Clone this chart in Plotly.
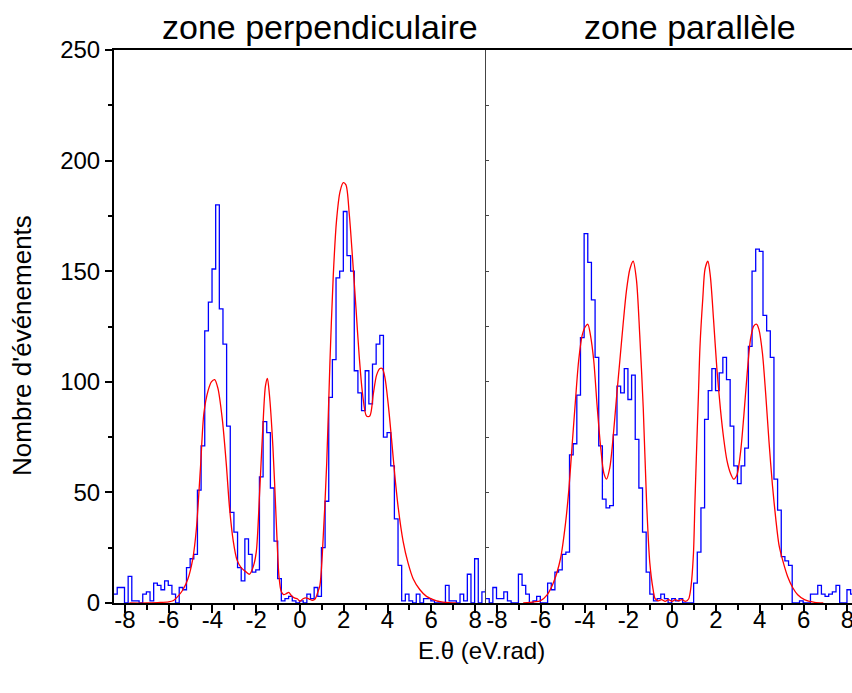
"""Energy-angle histograms with fitted curves, two zones side by side."""

import numpy as np
import plotly.graph_objects as go

# histogram binning (bins of 1/6 eV.rad)
FIRST_EDGE = -8.52
BIN_WIDTH = 1 / 6

perp_counts = [
    4, 7, 7, 0, 12, 1, 1, 0, 4, 5, 1, 9, 8, 6, 10, 8, 4, 0, 7, 6,
    16, 20, 22, 51, 71, 123, 136, 151, 180, 133, 117, 80, 41, 32, 16, 10, 29, 22, 14, 15,
    57, 82, 77, 52, 28, 11, 1, 2, 3, 1, 0, 1, 0, 4, 2, 7, 3, 25, 46, 93,
    110, 147, 150, 177, 157, 150, 105, 95, 87, 105, 90, 108, 117, 121, 75, 77, 62, 38, 17, 1,
    4, 1, 0, 4, 0, 2, 2, 1, 0, 0, 0, 8, 1, 1, 0, 4, 1, 13, 0, 20,
    0, 5, 6,
]
para_counts = [
    2, 0, 7, 2, 2, 5, 1, 0, 0, 13, 8, 4, 0, 1, 3, 0, 0, 9, 6, 14,
    15, 22, 23, 67, 72, 94, 120, 167, 154, 137, 111, 71, 47, 43, 44, 76, 98, 95, 106, 92,
    103, 74, 52, 32, 14, 4, 1, 2, 4, 2, 0, 2, 1, 2, 0, 0, 0, 9, 23, 43,
    83, 96, 106, 96, 104, 111, 101, 80, 62, 54, 62, 70, 116, 150, 160, 159, 130, 123, 111, 56,
    42, 21, 19, 17, 0, 0, 1, 0, 0, 4, 4, 8, 4, 3, 4, 5, 8, 0, 0, 6,
    4, 4, 4,
]

# fitted curves
perp_fit_x = [
    -7.8, -7.0, -6.5, -6.0, -5.8, -5.58, -5.35, -5.12, -4.9, -4.74, -4.55, -4.39, -4.2,
    -4.05, -3.9, -3.75, -3.55, -3.37, -3.22, -3.05, -2.88, -2.69, -2.46, -2.31, -2.15,
    -2.0, -1.85, -1.7, -1.58, -1.49, -1.4, -1.24, -1.09, -0.96, -0.86, -0.75, -0.63,
    -0.51, -0.39, -0.26, -0.11, 0.0, 0.12, 0.27, 0.42, 0.57, 0.69, 0.8, 0.91, 1.02,
    1.22, 1.37, 1.52, 1.67, 1.83, 1.98, 2.1, 2.25, 2.4, 2.56, 2.71, 2.86, 3.04, 3.19,
    3.35, 3.5, 3.65, 3.76, 3.88, 4.03, 4.18, 4.33, 4.49, 4.71, 4.94, 5.17, 5.48, 5.78,
    6.24, 6.69, 7.15,
]
perp_fit_y = [
    0, 0, 0.2, 0.5, 1, 3, 6, 11, 20, 33, 61, 86, 96,
    100, 101, 97, 83, 63, 43, 28, 19.5, 16, 14, 13, 16,
    23, 49, 79, 98, 101.5, 94.5, 71, 38, 12, 5.3, 3.8, 4.2,
    4.8, 3.3, 2.3, 1.8, 0.75, 1.8, 2.3, 1.8, 1.2, 1.8, 4.5, 8, 22,
    63, 109.5, 148, 173, 186, 190, 189, 176, 156, 133, 111, 94.5, 84.5, 84.5,
    94.5, 103, 106, 106, 102, 90, 74.5, 58, 43, 28, 18, 11, 6, 3,
    1, 0.3, 0,
]
para_fit_x = [
    -6.8, -6.3, -6.02, -5.71, -5.41, -5.1, -4.87, -4.72, -4.57, -4.42, -4.27, -4.11,
    -3.96, -3.85, -3.73, -3.58, -3.43, -3.27, -3.12, -3.0, -2.85, -2.7, -2.54, -2.39,
    -2.24, -2.09, -1.93, -1.78, -1.63, -1.48, -1.32, -1.17, -1.02, -0.87, -0.78, -0.63,
    -0.48, -0.32, -0.17, 0.0, 0.14, 0.29, 0.45, 0.6, 0.75, 0.86, 0.97, 1.04, 1.12,
    1.2, 1.27, 1.4, 1.5, 1.63, 1.74, 1.89, 2.04, 2.2, 2.35, 2.5, 2.66, 2.81, 2.96,
    3.12, 3.27, 3.43, 3.58, 3.73, 3.86, 3.96, 4.12, 4.27, 4.42, 4.58, 4.73, 4.88,
    5.04, 5.27, 5.5, 5.73, 6.04, 6.5, 6.9,
]
para_fit_y = [
    0, 0.5, 1, 3.7, 9.5, 20, 36, 51, 71, 91, 109.5, 121,
    125, 126, 121, 109.5, 89.5, 71, 58.7, 56, 61, 74.5, 93, 109.5,
    126, 141, 151, 154.5, 146, 121, 88, 46, 18, 6, 2, 1,
    1.5, 0.75, 1.5, 0.75, 1.5, 1, 1.5, 0.75, 1.8, 7.5, 22, 46, 71,
    94.5, 116, 138, 151, 154.5, 148, 128, 106, 88, 74.5, 64.5, 58.7, 56, 58,
    68, 84.5, 104.5, 119.5, 125.3, 126, 123.7, 113, 94.5, 73, 53, 38, 26,
    19.5, 12, 7, 3.7, 1.5, 0.3, 0,
]

x_tick_vals = [-8, -6, -4, -2, 0, 2, 4, 6, 8]
x_tick_text = ["-8", "-6", "-4", "-2", "0", "2", "4", "6", "8"]
y_tick_vals = [0, 50, 100, 150, 200, 250]

panel_titles = ["zone perpendiculaire", "zone parallèle"]
x_title = "E.θ (eV.rad)"
y_title = "Nombre d'événements"

FONT = "Liberation Sans, Arial, Helvetica, sans-serif"
BLUE = "#0000ff"
RED = "#ff0000"


def step_series(counts):
    edges = FIRST_EDGE + np.arange(len(counts) + 1) * BIN_WIDTH
    return edges, list(counts) + [counts[-1]]


fig = go.Figure()

for counts, fx, fy, xa, ya in [
    (perp_counts, perp_fit_x, perp_fit_y, "x", "y"),
    (para_counts, para_fit_x, para_fit_y, "x2", "y2"),
]:
    hx, hy = step_series(counts)
    fig.add_trace(
        go.Scatter(
            x=hx, y=hy, mode="lines", line=dict(color=BLUE, width=1.3, shape="hv"),
            xaxis=xa, yaxis=ya, showlegend=False, hoverinfo="skip",
        )
    )
    fig.add_trace(
        go.Scatter(
            x=fx, y=fy, mode="lines",
            line=dict(color=RED, width=1.3, shape="spline", smoothing=0.8),
            xaxis=xa, yaxis=ya, showlegend=False, hoverinfo="skip",
        )
    )

split = 372 / 738

xaxis_common = dict(
    tickvals=x_tick_vals, ticktext=x_tick_text,
    ticks="outside", ticklen=8, tickwidth=1.5, tickcolor="black",
    minor=dict(dtick=1, ticks="outside", ticklen=5, tickwidth=1.5, tickcolor="black"),
    showline=True, linecolor="black", linewidth=2, mirror=True,
    showgrid=False, zeroline=False, automargin=False,
    ticklabelstandoff=-14, ticklabeloverflow="allow",
    tickfont=dict(family=FONT, size=24, color="black"),
)

fig.update_layout(
    width=852,
    height=693,
    margin=dict(l=114, r=0, t=50, b=90, autoexpand=False),
    paper_bgcolor="white",
    plot_bgcolor="white",
    xaxis=dict(domain=[0, split], range=[-8.5, 8.5], anchor="y", **xaxis_common),
    xaxis2=dict(domain=[split, 1], range=[-8.5, 8.21], anchor="y2", **xaxis_common),
    yaxis=dict(
        range=[0, 250], tickvals=y_tick_vals, anchor="x",
        ticks="outside", ticklen=7, tickwidth=1.5, tickcolor="black",
        minor=dict(dtick=25, ticks="outside", ticklen=4, tickwidth=1.5, tickcolor="black"),
        showline=True, linecolor="black", linewidth=2,
        showgrid=False, zeroline=False, automargin=False,
        tickfont=dict(family=FONT, size=24, color="black"),
    ),
    yaxis2=dict(
        range=[0, 250], anchor="x2", dtick=25, showticklabels=False,
        ticks="inside", ticklen=3, tickwidth=1, tickcolor="#444",
        showline=True, linecolor="#444", linewidth=1,
        showgrid=False, zeroline=False, automargin=False,
    ),
    annotations=[
        dict(text=panel_titles[0], x=0.279, y=1.0416, xref="paper", yref="paper",
             xanchor="center", yanchor="middle", showarrow=False,
             font=dict(family=FONT, size=34, color="black")),
        dict(text=panel_titles[1], x=0.780, y=1.0416, xref="paper", yref="paper",
             xanchor="center", yanchor="middle", showarrow=False,
             font=dict(family=FONT, size=34, color="black")),
        dict(text=x_title, x=0.4986, y=-0.085, xref="paper", yref="paper",
             xanchor="center", yanchor="middle", showarrow=False,
             font=dict(family=FONT, size=24, color="black")),
        dict(text=y_title, x=-0.1247, y=0.4666, xref="paper", yref="paper",
             xanchor="center", yanchor="middle", showarrow=False, textangle=-90,
             font=dict(family=FONT, size=26, color="black")),
    ],
)

# the page body has a default 8px margin; drop it so the figure sits at the origin
fig.write_html(
    "out.html",
    config={"displayModeBar": False},
    post_script="document.body.style.margin = '0';",
)
